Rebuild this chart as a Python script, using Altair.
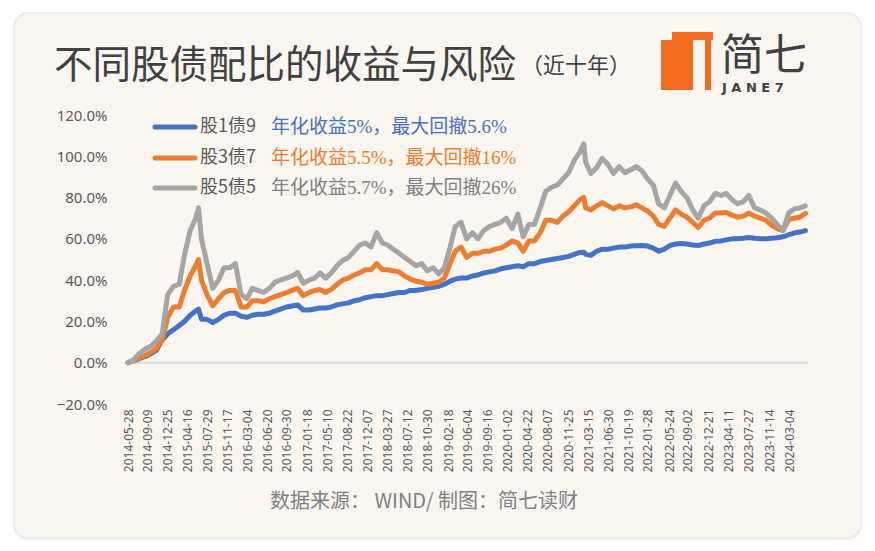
import altair as alt
import pandas as pd

# ---------------- data ----------------
dates = [
    "2014-05-28", "2014-06-28", "2014-07-28", "2014-08-28", "2014-09-28", "2014-10-28",
    "2014-11-28", "2014-12-28", "2015-01-28", "2015-02-28", "2015-03-28", "2015-04-28",
    "2015-05-28", "2015-06-12", "2015-06-28", "2015-07-28", "2015-08-28", "2015-09-28",
    "2015-10-28", "2015-11-28", "2015-12-28", "2016-01-28", "2016-02-28", "2016-03-28",
    "2016-04-28", "2016-05-28", "2016-06-28", "2016-07-28", "2016-08-28", "2016-09-28",
    "2016-10-28", "2016-11-28", "2016-12-28", "2017-01-28", "2017-02-28", "2017-03-28",
    "2017-04-28", "2017-05-28", "2017-06-28", "2017-07-28", "2017-08-28", "2017-09-28",
    "2017-10-28", "2017-11-28", "2017-12-28", "2018-01-28", "2018-02-28", "2018-03-28",
    "2018-04-28", "2018-05-28", "2018-06-28", "2018-07-28", "2018-08-28", "2018-09-28",
    "2018-10-28", "2018-11-28", "2018-12-28", "2019-01-28", "2019-02-28", "2019-03-28",
    "2019-04-28", "2019-05-28", "2019-06-28", "2019-07-28", "2019-08-28", "2019-09-28",
    "2019-10-28", "2019-11-28", "2019-12-28", "2020-01-28", "2020-02-28", "2020-03-28",
    "2020-04-28", "2020-05-28", "2020-06-28", "2020-07-28", "2020-08-28", "2020-09-28",
    "2020-10-28", "2020-11-28", "2020-12-28", "2021-01-28", "2021-02-18", "2021-02-28",
    "2021-03-28", "2021-04-28", "2021-05-28", "2021-06-28", "2021-07-28", "2021-08-28",
    "2021-09-28", "2021-10-28", "2021-11-28", "2021-12-28", "2022-01-28", "2022-02-28",
    "2022-03-28", "2022-04-28", "2022-05-28", "2022-06-28", "2022-07-28", "2022-08-28",
    "2022-09-28", "2022-10-28", "2022-11-28", "2022-12-28", "2023-01-28", "2023-02-28",
    "2023-03-28", "2023-04-28", "2023-05-28", "2023-06-28", "2023-07-28", "2023-08-28",
    "2023-09-28", "2023-10-28", "2023-11-28", "2023-12-28", "2024-01-28", "2024-02-28",
    "2024-03-28", "2024-04-28", "2024-05-28",
]

# 股1债9 (blue), values in percent
blue = [
    0, 1, 2, 3, 4.5, 6,
    11, 14, 16, 18, 20, 23,
    25, 26, 21, 21, 19.5, 21,
    23, 24, 24, 22.5, 22, 23,
    23.5, 23.5, 24, 25, 26, 27,
    27.5, 28, 25.5, 25.5, 26, 26.5,
    26.5, 27, 28, 28.5, 29, 30,
    30.5, 31.5, 32, 32.5, 32.5, 33,
    33.5, 34, 34, 35, 35, 35.5,
    36, 36.5, 37, 38, 39.5, 40.5,
    41, 41, 42, 42.5, 43.5, 44,
    44.5, 45.5, 46, 46.5, 47, 46.5,
    48, 48, 49, 49.5, 50, 50.5,
    51, 51.5, 52.5, 53.4, 53.5, 52.5,
    52, 54, 55, 55, 55.5, 56,
    56, 56.5, 56.7, 56.8, 56.5, 55.5,
    54, 55, 56.8, 57.5, 57.8, 57.5,
    57, 56.8, 57.5, 58, 58.8, 59,
    59.5, 60, 60, 60.3, 60.7, 60.3,
    60, 60, 60.3, 60.5, 61, 62,
    62.8, 63.3, 64,
]

# 股3债7 (orange)
orange = [
    0, 1, 2.5, 3.5, 5, 7,
    11, 22, 27, 27, 35, 42,
    47, 50, 40, 33, 27.5, 31,
    34, 35, 35, 27, 27, 30,
    30, 29.5, 31, 32, 33, 34,
    35, 36, 32.5, 34, 35, 35.5,
    34, 35.5, 38, 40, 41, 42.5,
    43.5, 45, 45, 48, 45, 45,
    44.5, 44, 42, 40.5, 39.5, 39,
    38, 38.5, 39, 41, 48, 54,
    56, 51, 53, 53, 54, 54,
    55, 55.5, 57, 59, 58, 54,
    59, 59, 63, 69, 69, 68,
    71, 73, 76, 79, 80, 75,
    74, 76, 77.5, 76, 74.5, 76,
    75, 75.5, 76.5, 75, 73.5, 71,
    67, 66, 70, 74, 72, 70.5,
    68, 65.5, 69, 70, 72.5, 72.5,
    72.8, 71.5, 70.5, 71, 72.5, 71,
    70, 69, 66.5, 65, 64, 69.5,
    70, 70.5, 72.3,
]

# 股5债5 (gray)
gray = [
    0, 1.5, 4.5, 6.5, 8, 10.5,
    14, 33, 37, 38, 52, 64,
    70, 75, 60, 48, 36, 40,
    46, 46, 48, 33, 31, 36,
    35, 34, 36, 39, 40, 41,
    42, 43.7, 38.5, 40, 41, 43.5,
    41, 43.5, 47, 49.5, 51, 54,
    57, 58, 56, 63, 58, 57,
    55, 53, 51, 49, 47, 48,
    44.5, 46, 43, 46, 56, 66,
    68, 60, 63, 60, 64, 66,
    67, 68, 70, 65, 72, 61,
    67, 67, 75, 83, 85, 86,
    89, 92, 98, 102, 106, 97,
    91.7, 94.5, 99, 96, 91.7, 95,
    92, 93.5, 95, 93, 89, 86,
    77, 75, 81, 87, 83, 80,
    74, 70, 76, 78, 82, 81,
    82, 79, 77, 78, 81, 75,
    74, 72.5, 70, 67, 64, 72.5,
    74.5, 75, 76,
]

series_names = ["股1债9", "股3债7", "股5债5"]
series_notes = ["年化收益5%，最大回撤5.6%", "年化收益5.5%，最大回撤16%", "年化收益5.7%，最大回撤26%"]
line_colors = ["#4472C4", "#ED7D31", "#A5A5A5"]
note_colors = ["#4472C4", "#ED7D31", "#808080"]

tick_dates = [
    "2014-05-28", "2014-09-09", "2014-12-25", "2015-04-16", "2015-07-29", "2015-11-17",
    "2016-03-04", "2016-06-20", "2016-09-30", "2017-01-18", "2017-05-10", "2017-08-22",
    "2017-12-07", "2018-03-27", "2018-07-12", "2018-10-30", "2019-02-18", "2019-06-04",
    "2019-09-16", "2020-01-02", "2020-04-22", "2020-08-07", "2020-11-25", "2021-03-15",
    "2021-06-30", "2021-10-19", "2022-01-28", "2022-05-24", "2022-09-02", "2022-12-21",
    "2023-04-11", "2023-07-27", "2023-11-14", "2024-03-04",
]
y_ticks = [-0.2, 0.0, 0.2, 0.4, 0.6, 0.8, 1.0, 1.2]

title_text = "不同股债配比的收益与风险"
subtitle_text = "（近十年）"
source_text = "数据来源：  WIND/ 制图：简七读财"

# ---------------- build ----------------
def ms(d):
    return int(pd.Timestamp(d).value // 10**6)

frames = []
for name, vals in zip(series_names, [blue, orange, gray]):
    frames.append(pd.DataFrame({"date": dates, "value": [v / 100 for v in vals], "series": name}))
df = pd.concat(frames, ignore_index=True)

one = pd.DataFrame({"k": [0]})
CJK = "Noto Sans CJK SC"

x_enc = alt.X(
    "date:T",
    scale=alt.Scale(type="utc", domain=[ms("2014-05-17"), ms("2024-06-11")]),
    axis=alt.Axis(
        values=[ms(d) for d in tick_dates],
        labelExpr="utcFormat(datum.value, '%Y-%m-%d')",
        labelAngle=270, labelPadding=5, ticks=False, domain=False, grid=False,
        title=None, labelFont="Noto Sans", labelFontSize=12, labelColor="#595959",
        labelOverlap=False, labelFlush=False, zindex=2,
    ),
)
y_enc = alt.Y(
    "value:Q",
    scale=alt.Scale(domain=[-0.2, 1.2], nice=False, zero=False),
    axis=alt.Axis(
        values=y_ticks, format=".1%", grid=False, domain=False, ticks=False,
        labelPadding=19, labelFont="Noto Sans", labelFontSize=15,
        labelColor="#595959", title=None, zindex=2,
    ),
)

layers = []

# card background (decoration)
layers.append(alt.Chart(one).mark_rect(color="#ECECEC", cornerRadius=15).encode(
    x=alt.value(-113), x2=alt.value(736), y=alt.value(-103), y2=alt.value(425)))
layers.append(alt.Chart(one).mark_rect(color="#FCF6F0", cornerRadius=14).encode(
    x=alt.value(-111), x2=alt.value(734), y=alt.value(-101), y2=alt.value(422)))

# zero line
layers.append(alt.Chart(one).mark_rule(color="#D9D9D9", strokeWidth=2).encode(
    y=alt.datum(0)))

# series lines (identical encodings so the axes merge cleanly)
for name, col in zip(series_names, line_colors):
    layers.append(
        alt.Chart(df).transform_filter(alt.datum.series == name)
        .mark_line(color=col, strokeWidth=5, strokeJoin="round", strokeCap="round")
        .encode(x=x_enc, y=y_enc)
    )

# legend (decoration)
legend_y = [12, 43, 73]
for name, note, lc, nc, ly in zip(series_names, series_notes, line_colors, note_colors, legend_y):
    layers.append(alt.Chart(one).mark_rule(color=lc, strokeWidth=5, strokeCap="round").encode(
        x=alt.value(29), x2=alt.value(69), y=alt.value(ly)))
    layers.append(alt.Chart(one).mark_text(
        text=name, align="left", baseline="middle", font=CJK, fontSize=18, color="#595959"
    ).encode(x=alt.value(74), y=alt.value(ly)))
    layers.append(alt.Chart(one).mark_text(
        text=note, align="left", baseline="middle",
        font="'Liberation Serif', 'Noto Sans CJK SC'", fontSize=19, color=nc
    ).encode(x=alt.value(145), y=alt.value(ly)))

# title
layers.append(alt.Chart(one).mark_text(
    text=title_text, align="left", baseline="alphabetic", font=CJK, fontSize=38.5, color="#404040"
).encode(x=alt.value(-72), y=alt.value(-37)))
layers.append(alt.Chart(one).mark_text(
    text=subtitle_text, align="left", baseline="alphabetic", font=CJK, fontSize=22, color="#404040"
).encode(x=alt.value(395), y=alt.value(-42)))

# logo
logo_orange = "#F26B21"
layers.append(alt.Chart(one).mark_rect(color=logo_orange).encode(
    x=alt.value(546), x2=alt.value(587), y=alt.value(-83), y2=alt.value(-75)))
layers.append(alt.Chart(one).mark_rect(color=logo_orange).encode(
    x=alt.value(535), x2=alt.value(567), y=alt.value(-75), y2=alt.value(-25)))
layers.append(alt.Chart(one).mark_rect(color=logo_orange).encode(
    x=alt.value(579), x2=alt.value(585), y=alt.value(-75), y2=alt.value(-25)))
layers.append(alt.Chart(one).mark_text(
    text="简七", align="left", baseline="alphabetic", font=CJK, fontSize=43, color="#404040"
).encode(x=alt.value(595), y=alt.value(-45)))
layers.append(alt.Chart(one).mark_text(
    text="J  A  N  E  7", align="left", baseline="alphabetic", font="DejaVu Sans",
    fontSize=13, fontWeight="bold", color="#404040"
).encode(x=alt.value(596), y=alt.value(-23)))

# source
layers.append(alt.Chart(one).mark_text(
    text=source_text, align="center", baseline="middle", font=CJK, fontSize=20, color="#808080"
).encode(x=alt.value(298), y=alt.value(387)))

chart = alt.layer(*layers).properties(
    width=682, height=289,
    padding={"left": 118, "top": 107, "right": 59, "bottom": 139},
    autosize=alt.AutoSizeParams(type="none"),
    background="#FFFFFF",
).configure_view(stroke=None)

chart.save("out.html", embed_options={"renderer": "svg", "actions": False})
